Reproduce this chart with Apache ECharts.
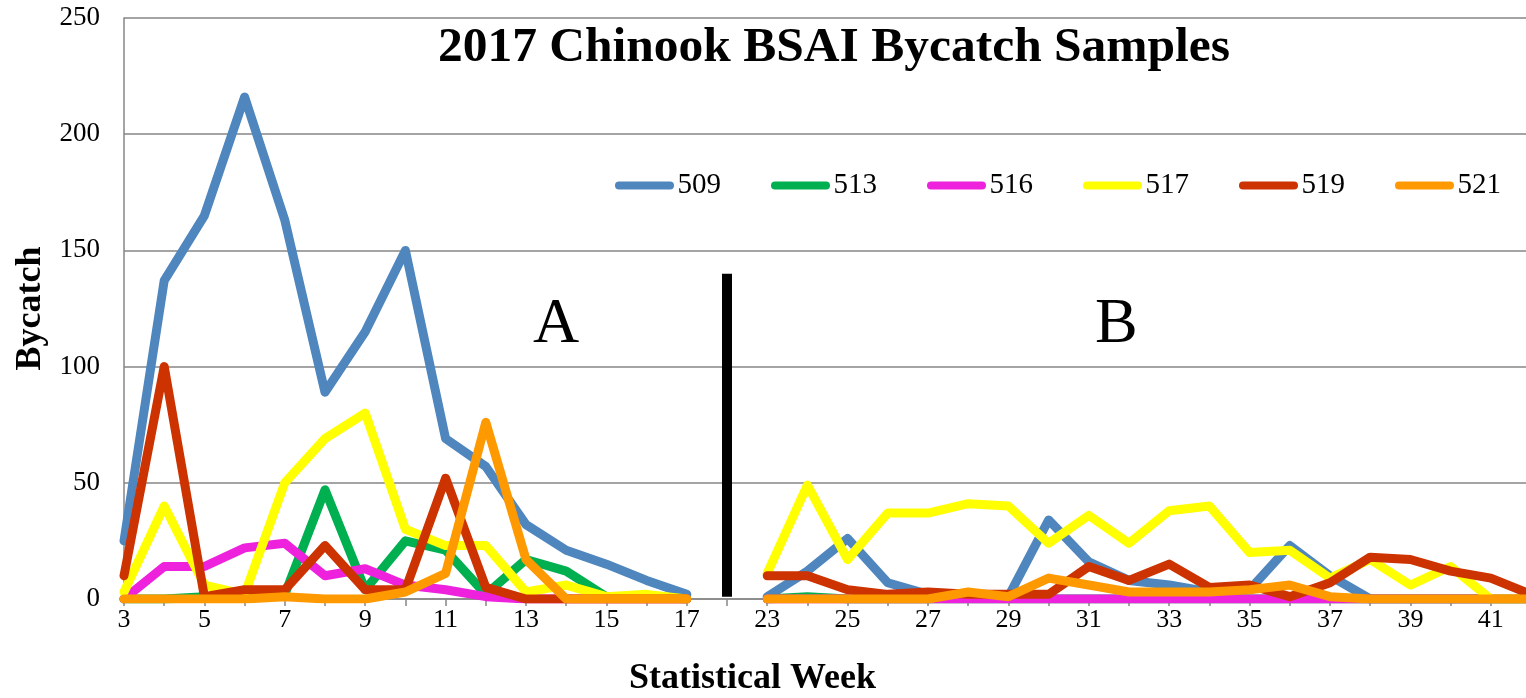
<!DOCTYPE html>
<html>
<head>
<meta charset="utf-8">
<script src="https://cdn.jsdelivr.net/npm/echarts@6/dist/echarts.min.js"></script>
<style>
html,body{margin:0;padding:0;background:#fff;}
#chart{width:1526px;height:698px;}
</style>
</head>
<body>
<div id="chart"></div>
<script>
var weeks = ['3','4','5','6','7','8','9','10','11','12','13','14','15','16','17','',
  '23','24','25','26','27','28','29','30','31','32','33','34','35','36','37','38','39','40','41','42'];
var seriesNames = ['509','513','516','517','519','521'];
var seriesColors = ['#4F86BE','#00B050','#EE22DD','#FFFF00','#CC3300','#FF9900'];
var s509 = [25,137,165,216,163,89,115,150,69,57,32,21,15,8,2,'-',
  1,12,26,7,2,1,1,34,16,8,6,3,4,23,10,0,0,0,0,0];
var s513 = [0,0,1,1,2,47,4,25,21,2,17,12,1,1,0,'-',
  0,1,0,0,0,0,0,0,0,0,0,0,0,0,0,0,0,0,0,0];
var s516 = [0,14,14,22,24,10,13,6,4,1,0,0,0,0,0,'-',
  0,0,0,0,0,0,0,0,0,0,0,0,0,0,0,0,0,0,0,0];
var s517 = [3,40,6,2,50,69,80,30,23,23,3,6,1,2,0,'-',
  11,49,17,37,37,41,40,24,36,24,38,40,20,21,9,17,6,14,0,0];
var s519 = [10,100,1,4,4,23,4,4,52,5,0,0,0,0,0,'-',
  10,10,4,2,3,2,2,2,14,8,15,5,6,1,7,18,17,12,9,2];
var s521 = [0,0,0,0,1,0,0,3,11,76,17,0,0,0,0,'-',
  0,0,0,0,0,3,1,9,6,3,3,3,4,6,1,0,0,0,0,0];
var yTicks = {min:0, max:250, interval:50};
var dividerIndex = 15;
var dividerRange = [1, 140];

var allData = [s509,s513,s516,s517,s519,s521];
var FONT = '"Liberation Serif", "Times New Roman", serif';

var series = allData.map(function(d, i){
  var s = {
    name: seriesNames[i],
    type: 'line',
    data: d,
    showSymbol: false,
    symbol: 'none',
    connectNulls: false,
    silent: true,
    lineStyle: {color: seriesColors[i], width: 9, cap: 'round', join: 'round'},
    itemStyle: {color: seriesColors[i]},
    z: 2 + i
  };
  if (i === 0) {
    s.markLine = {
      silent: true,
      symbol: ['none','none'],
      label: {show:false},
      lineStyle: {color:'#000', width:10, type:'solid', cap:'butt'},
      emphasis: {disabled:true},
      data: [[{coord:[dividerIndex, dividerRange[0]]},{coord:[dividerIndex, dividerRange[1]]}]]
    };
  }
  return s;
});

var chart = echarts.init(document.getElementById('chart'));
chart.setOption({
  animation: false,
  backgroundColor: '#fff',
  title: {
    text: '2017 Chinook BSAI Bycatch Samples',
    left: 829, top: 18, textAlign: 'center',
    textStyle: {fontFamily: FONT, fontWeight: 'bold', fontSize: 49.5, color: '#000'}
  },
  legend: {
    data: seriesNames,
    left: 610, top: 166,
    icon: 'path://M4,0 H55 A4,4 0 0 1 55,8 H4 A4,4 0 0 1 4,0 Z',
    itemWidth: 62, itemHeight: 8, itemGap: 50,
    textStyle: {fontFamily: FONT, fontSize: 29, color: '#000', padding: [0,0,0,-3]}
  },
  grid: {left: 124, right: -5, top: 18, bottom: 99, containLabel: false, outerBoundsMode: 'none'},
  xAxis: {
    type: 'category',
    data: weeks,
    boundaryGap: false,
    name: 'Statistical Week',
    nameLocation: 'middle',
    nameGap: 62,
    nameTextStyle: {fontFamily: FONT, fontWeight: 'bold', fontSize: 36, color: '#000', padding: [0,150,0,0]},
    axisLine: {lineStyle: {color: '#868686', width: 1.5}},
    axisTick: {show: true, interval: 0, length: 7, lineStyle: {color: '#868686', width: 1.5}},
    axisLabel: {interval: 1, fontFamily: FONT, fontSize: 26, color: '#000', margin: 8},
    splitLine: {show: false}
  },
  yAxis: {
    type: 'value',
    min: yTicks.min, max: yTicks.max, interval: yTicks.interval,
    name: 'Bycatch',
    nameLocation: 'middle',
    nameGap: 74,
    nameTextStyle: {fontFamily: FONT, fontWeight: 'bold', fontSize: 36, color: '#000'},
    axisLine: {show: true, lineStyle: {color: '#868686', width: 1.5}},
    axisTick: {show: false},
    axisLabel: {fontFamily: FONT, fontSize: 27, color: '#000', margin: 24},
    splitLine: {lineStyle: {color: '#868686', width: 1.5}}
  },
  graphic: [
    {type:'text', left: 533, top: 293, style:{text:'A', fontFamily: FONT, fontSize: 64, fill:'#000'}},
    {type:'text', left: 1095, top: 293, style:{text:'B', fontFamily: FONT, fontSize: 64, fill:'#000'}}
  ],
  series: series
});
</script>
</body>
</html>
